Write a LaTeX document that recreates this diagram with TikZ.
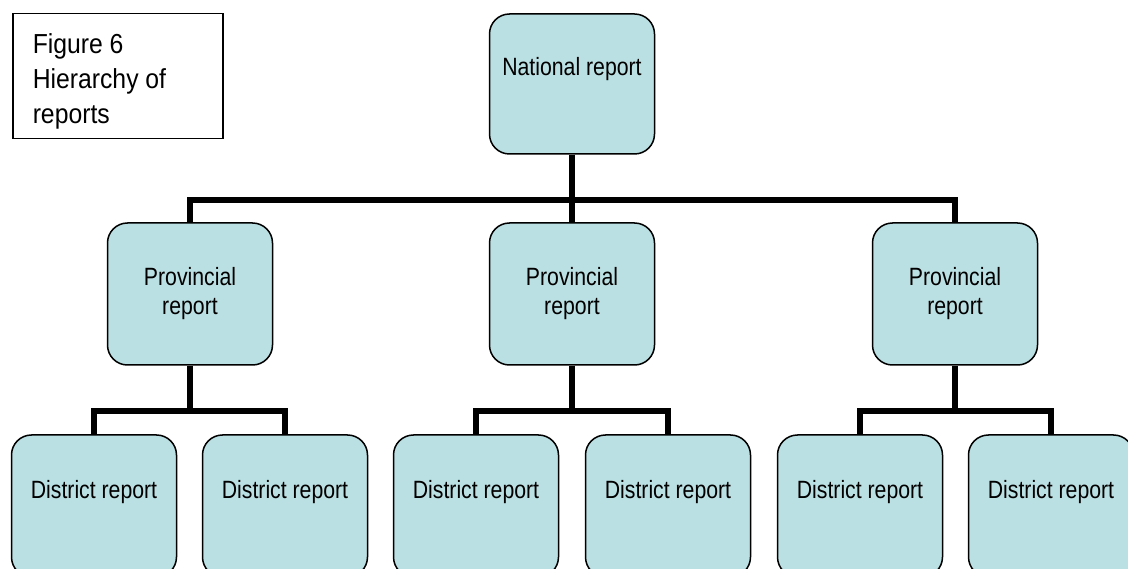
\documentclass[tikz,border=0pt]{standalone}
\usepackage{fontspec}
\setmainfont[FakeStretch=0.85]{Liberation Sans}
\newfontfamily\capfont[FakeStretch=0.9]{Liberation Sans}
\usetikzlibrary{positioning}
\definecolor{repfill}{RGB}{187,224,227}

\begin{document}
\begin{tikzpicture}[x=1pt,y=-1pt,
    rep/.style={draw,line width=1.5pt,fill=repfill,rounded corners=20pt,minimum width=165pt,minimum height=142pt,inner sep=0pt,align=flush center,font=\fontsize{25}{29}\selectfont,text height=18pt,text depth=34pt},
    prov/.style={rep,text height=47pt,text depth=5pt},
    conn/.style={line width=6.5pt}]
      \useasboundingbox(0,0)rectangle(1128,569);
      \clip(0,0)rectangle(1128,569);
      \node[draw,line width=1.5pt,anchor=north west,inner xsep=20pt,inner ysep=0pt,text width=170pt,text height=40pt,text depth=85pt,align=flush left,font=\capfont\fontsize{27.5}{35}\selectfont](cap)at(12,13){Figure 6\\Hierarchy of\\reports};
      \node[rep,minimum height=140pt](nat)at(572,84){National report};
      \node[prov](pl)at(190,294){Provincial\\report};
      \node[prov](pm)at(572,294){Provincial\\report};
      \node[prov](pr)at(955,294){Provincial\\report};
      \node[rep](d1)at(94,506){District report};
      \node[rep](d2)at(285,506){District report};
      \node[rep](d3)at(476,506){District report};
      \node[rep](d4)at(668,506){District report};
      \node[rep](d5)at(860,506){District report};
      \node[rep](d6)at(1051,506){District report};
      \coordinate(bus)at(0,200);
      \coordinate(sub)at(0,411);
      \draw[conn](nat.south)--(pm.north);
      \draw[conn](pl.north)--(pl.north|-bus)--(pr.north|-bus)--(pr.north);
      \foreach \p/\a/\b in {pl/d1/d2,pm/d3/d4,pr/d5/d6}{
        \draw[conn](\p.south)--(\p.south|-sub);
        \draw[conn](\a.north)--(\a.north|-sub)--(\b.north|-sub)--(\b.north);
      }
    \end{tikzpicture}
\end{document}
